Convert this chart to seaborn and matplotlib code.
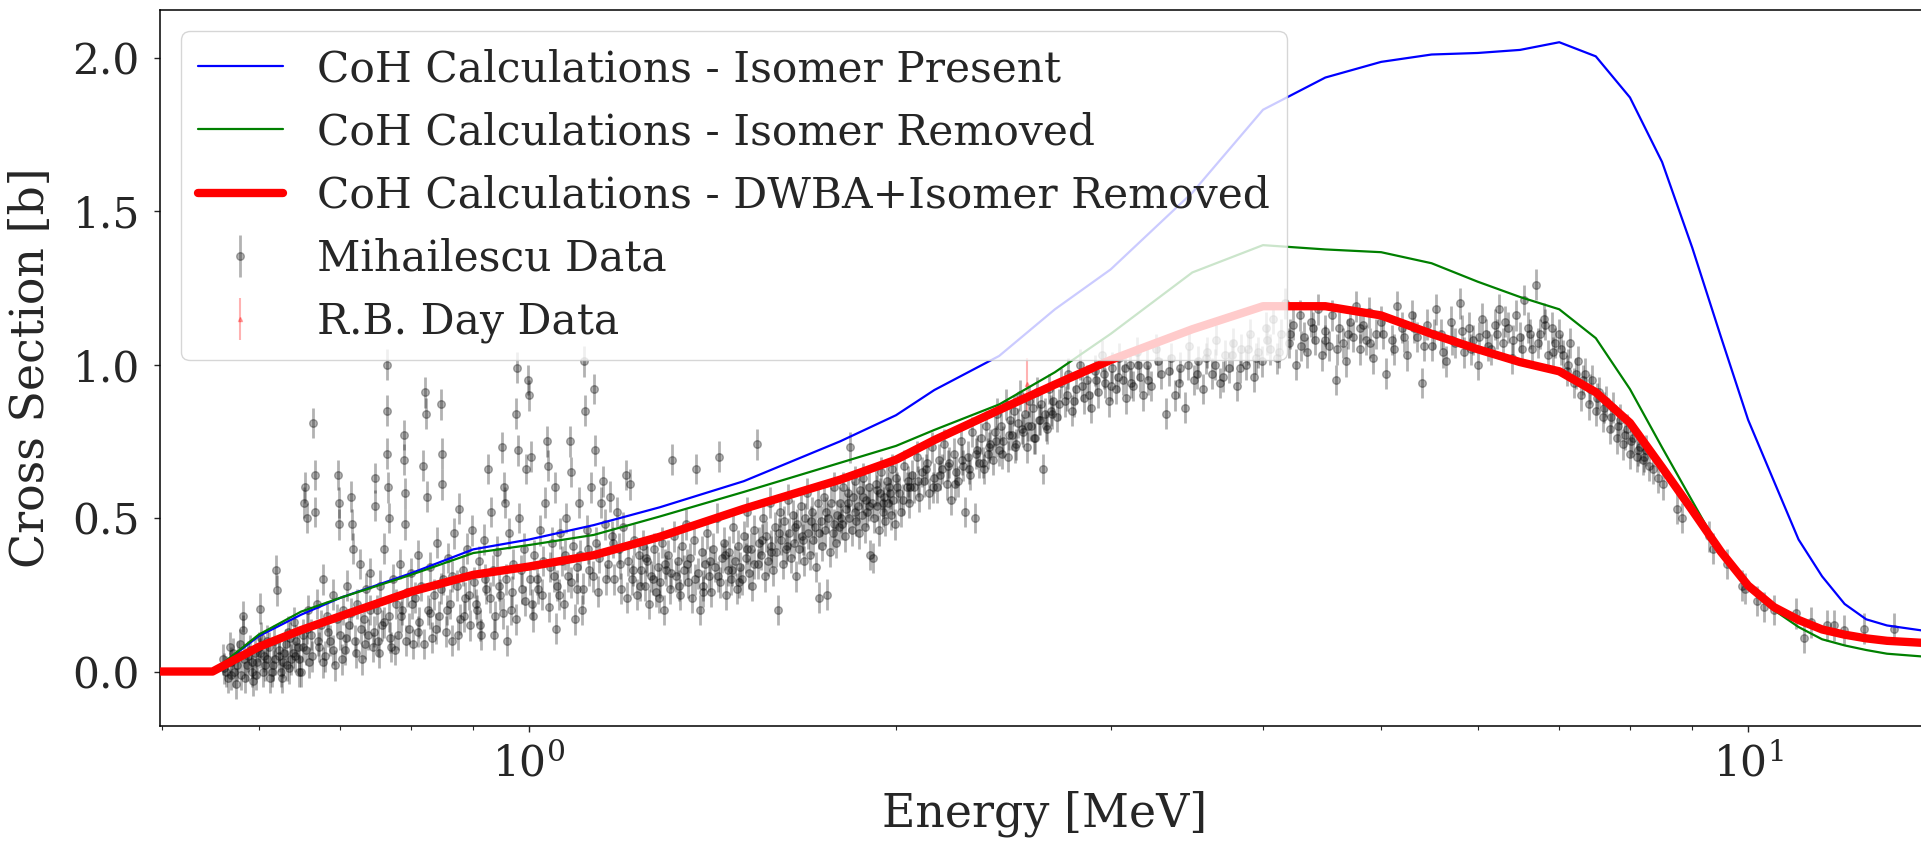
import numpy as np
import pandas as pd
import matplotlib
matplotlib.use("Agg")
import matplotlib.pyplot as plt
import seaborn as sns

# ---------------- data ----------------
energy_grid = [0.498, 0.55, 0.6, 0.65, 0.7, 0.8, 0.9, 1.0, 1.13, 1.28, 1.5, 1.8, 2.0, 2.15,
               2.43, 2.7, 3.0, 3.5, 4.0, 4.5, 5.0, 5.5, 6.0, 6.5, 7.0, 7.5, 8.0, 8.5, 9.0,
               9.5, 10.0, 10.5, 11.0, 11.5, 12.0, 12.5, 13.0, 14.1]

xs_isomer_present = [0, 0, 0.115, 0.185, 0.24, 0.32, 0.398, 0.43, 0.477, 0.535, 0.62, 0.75,
                     0.835, 0.917, 1.028, 1.18, 1.31, 1.56, 1.83, 1.935, 1.986, 2.01, 2.015,
                     2.025, 2.05, 2.004, 1.87, 1.66, 1.38, 1.09, 0.82, 0.62, 0.43, 0.31, 0.22,
                     0.17, 0.15, 0.13]

xs_isomer_removed = [0, 0, 0.12, 0.195, 0.24, 0.315, 0.386, 0.412, 0.445, 0.505, 0.585, 0.68,
                     0.735, 0.787, 0.87, 0.975, 1.1, 1.30, 1.389, 1.375, 1.366, 1.33, 1.27,
                     1.22, 1.18, 1.086, 0.92, 0.73, 0.555, 0.39, 0.27, 0.2, 0.145, 0.105,
                     0.085, 0.07, 0.058, 0.047]

xs_dwba_removed = [0, 0, 0.08, 0.135, 0.18, 0.26, 0.315, 0.342, 0.379, 0.439, 0.53, 0.625,
                   0.69, 0.754, 0.852, 0.935, 1.015, 1.115, 1.19, 1.19, 1.16, 1.10, 1.05,
                   1.008, 0.978, 0.91, 0.81, 0.665, 0.525, 0.39, 0.28, 0.21, 0.168, 0.137,
                   0.12, 0.108, 0.1, 0.092]

# Mihailescu data (segment by segment)
mih_e_a = [0.562, 0.566, 0.568, 0.57, 0.573, 0.575, 0.577, 0.58, 0.582, 0.583, 0.584, 0.587,
           0.59, 0.592, 0.594, 0.596, 0.598, 0.601, 0.602, 0.603, 0.605, 0.607, 0.609, 0.612,
           0.613, 0.616, 0.618, 0.62, 0.621, 0.624, 0.626, 0.628, 0.63, 0.632, 0.634, 0.636,
           0.638, 0.64, 0.642, 0.644, 0.646, 0.648, 0.65, 0.652, 0.654, 0.655, 0.656, 0.657,
           0.659, 0.66]
mih_v_a = [0.01, -0.02, 0.08, 0.03, 0.0, -0.04, 0.05, -0.01, 0.18, 0.135, 0.04, 0.02,
           0.07, 0.0, -0.03, 0.06, 0.03, 0.06, 0.205, 0.11, 0.0, 0.02, 0.04, 0.08,
           -0.02, 0.02, 0.1, 0.33, 0.265, 0.05, 0.0, 0.03, 0.06, 0.09, 0.13, 0.01,
           0.04, 0.06, 0.16, 0.1, 0.08, 0.04, 0.0, 0.12, 0.55, 0.6, 0.07, 0.5,
           0.2, 0.03]

mih_e_b = [0.662, 0.665, 0.667, 0.668, 0.67, 0.672, 0.675, 0.678, 0.68, 0.683, 0.686, 0.69,
           0.693, 0.697, 0.698, 0.699, 0.7, 0.703, 0.706, 0.709, 0.712, 0.715, 0.716, 0.717,
           0.72, 0.723, 0.726, 0.729, 0.732, 0.735, 0.738, 0.741, 0.744, 0.747, 0.748, 0.75]
mih_v_b = [0.12, 0.81, 0.64, 0.52, 0.22, 0.08, 0.15, 0.3, 0.05, 0.18, 0.1, 0.25,
           0.02, 0.64, 0.55, 0.48, 0.12, 0.2, 0.07, 0.28, 0.15, 0.57, 0.48, 0.4,
           0.1, 0.22, 0.35, 0.04, 0.17, 0.27, 0.12, 0.32, 0.08, 0.63, 0.54, 0.2]

mih_e_c = [0.752, 0.755, 0.758, 0.761, 0.764, 0.7645, 0.765, 0.766, 0.767, 0.768, 0.771,
           0.774, 0.777, 0.78, 0.783, 0.786, 0.789, 0.79, 0.7905, 0.791, 0.794, 0.797, 0.8,
           0.803, 0.806, 0.81, 0.813, 0.816, 0.819, 0.822, 0.8225, 0.824, 0.826, 0.83, 0.833,
           0.836, 0.84, 0.843, 0.847, 0.848, 0.849, 0.85, 0.854, 0.858, 0.861, 0.865, 0.868,
           0.872, 0.876, 0.878, 0.882, 0.886, 0.89, 0.894, 0.898]
mih_v_c = [0.1, 0.28, 0.15, 0.4, 1.0, 0.85, 0.71, 0.6, 0.5, 0.18, 0.08,
           0.3, 0.22, 0.12, 0.35, 0.2, 0.77, 0.69, 0.58, 0.48, 0.26, 0.14, 0.32,
           0.09, 0.24, 0.38, 0.16, 0.28, 0.67, 0.91, 0.84, 0.57, 0.2, 0.34, 0.11,
           0.25, 0.42, 0.18, 0.87, 0.71, 0.61, 0.3, 0.13, 0.37, 0.22, 0.1, 0.45,
           0.28, 0.53, 0.17, 0.33, 0.24, 0.4, 0.15, 0.46]

mih_e_d = [0.902, 0.906, 0.91, 0.914, 0.918, 0.922, 0.926, 0.93, 0.934, 0.938, 0.942, 0.946,
           0.95, 0.953, 0.955, 0.958, 0.962, 0.966, 0.97, 0.975, 0.978, 0.98, 0.982, 0.986,
           0.99, 0.995, 0.998, 1.0, 1.003, 1.006, 1.01, 1.015, 1.02, 1.025, 1.03, 1.034,
           1.036, 1.04, 1.045, 1.05]
mih_v_d = [0.29, 0.2, 0.36, 0.12, 0.43, 0.27, 0.66, 0.52, 0.33, 0.18, 0.39, 0.25,
           0.73, 0.6, 0.55, 0.3, 0.45, 0.2, 0.35, 0.84, 0.99, 0.72, 0.5, 0.27,
           0.4, 0.66, 0.95, 0.9, 0.7, 0.22, 0.38, 0.3, 0.46, 0.25, 0.55, 0.75,
           0.67, 0.34, 0.42, 0.6]

mih_e_e = [1.052, 1.055, 1.06, 1.064, 1.068, 1.072, 1.076, 1.08, 1.083, 1.086, 1.09, 1.094,
           1.098, 1.1, 1.105, 1.11, 1.112, 1.115, 1.12, 1.125, 1.13, 1.132, 1.135, 1.14,
           1.145, 1.15, 1.155, 1.16, 1.165, 1.17, 1.175, 1.18, 1.185, 1.19, 1.195, 1.2,
           1.205, 1.21, 1.215, 1.22, 1.225, 1.23, 1.235, 1.24, 1.245, 1.25, 1.255, 1.26,
           1.265, 1.27, 1.275, 1.28, 1.285, 1.29, 1.295]
mih_v_e = [0.14, 0.28, 0.45, 0.36, 0.22, 0.5, 0.31, 0.75, 0.65, 0.41, 0.17, 0.27,
           0.55, 0.38, 0.2, 1.01, 0.85, 0.46, 0.33, 0.6, 0.92, 0.72, 0.42, 0.26,
           0.55, 0.62, 0.48, 0.35, 0.57, 0.44, 0.3, 0.52, 0.4, 0.27, 0.47, 0.64,
           0.36, 0.61, 0.3, 0.43, 0.25, 0.38, 0.33, 0.41, 0.28, 0.36, 0.22, 0.31,
           0.4, 0.26, 0.34, 0.29, 0.42, 0.2, 0.33]

mih_e_f = [1.30, 1.305, 1.31, 1.315, 1.32, 1.325, 1.33, 1.335, 1.34, 1.345, 1.35, 1.355,
           1.36, 1.365, 1.37, 1.375, 1.38, 1.385, 1.39, 1.395, 1.40, 1.405, 1.41, 1.415,
           1.42, 1.425, 1.432, 1.435, 1.44, 1.445, 1.45, 1.455, 1.46, 1.465, 1.47, 1.475,
           1.48, 1.485, 1.49, 1.495, 1.50, 1.505, 1.51, 1.515, 1.52, 1.525, 1.53, 1.537,
           1.54, 1.545]
mih_v_f = [0.38, 0.27, 0.69, 0.44, 0.31, 0.36, 0.25, 0.41, 0.33, 0.48, 0.29, 0.37,
           0.24, 0.43, 0.66, 0.32, 0.2, 0.39, 0.28, 0.35, 0.45, 0.31, 0.26, 0.4,
           0.34, 0.5, 0.7, 0.29, 0.37, 0.42, 0.25, 0.33, 0.39, 0.3, 0.47, 0.36,
           0.27, 0.41, 0.34, 0.3, 0.44, 0.37, 0.52, 0.32, 0.4, 0.28, 0.46, 0.74,
           0.35, 0.42]

mih_e_g = [1.55, 1.555, 1.56, 1.565, 1.57, 1.575, 1.58, 1.585, 1.59, 1.595, 1.60, 1.605,
           1.61, 1.615, 1.62, 1.625, 1.63, 1.635, 1.64, 1.645, 1.65, 1.655, 1.66, 1.665,
           1.67, 1.675, 1.68, 1.685, 1.69, 1.695, 1.70, 1.705, 1.71, 1.715, 1.72, 1.725,
           1.73, 1.735, 1.74, 1.745, 1.75, 1.755, 1.76, 1.765, 1.77, 1.775, 1.78, 1.785,
           1.79, 1.795]
mih_v_g = [0.38, 0.5, 0.31, 0.44, 0.36, 0.55, 0.41, 0.33, 0.47, 0.39, 0.2, 0.52,
           0.43, 0.35, 0.49, 0.4, 0.56, 0.45, 0.37, 0.51, 0.42, 0.31, 0.48, 0.4,
           0.54, 0.44, 0.36, 0.5, 0.58, 0.45, 0.38, 0.52, 0.43, 0.47, 0.34, 0.55,
           0.24, 0.49, 0.41, 0.57, 0.46, 0.25, 0.5, 0.39, 0.55, 0.45, 0.6, 0.42,
           0.51, 0.47]

mih_e_h = [1.80, 1.805, 1.81, 1.815, 1.82, 1.825, 1.83, 1.835, 1.84, 1.845, 1.85, 1.855,
           1.86, 1.865, 1.87, 1.875, 1.88, 1.885, 1.89, 1.895, 1.90, 1.905, 1.91, 1.915,
           1.92, 1.925, 1.93, 1.935, 1.94, 1.945, 1.95, 1.955, 1.96, 1.965, 1.97, 1.975,
           1.98, 1.985, 1.99, 1.995, 2.00, 2.01, 2.02, 2.03, 2.04]
mih_v_h = [0.55, 0.48, 0.6, 0.44, 0.53, 0.58, 0.5, 0.73, 0.46, 0.57, 0.62, 0.49,
           0.54, 0.45, 0.59, 0.51, 0.63, 0.47, 0.56, 0.52, 0.6, 0.38, 0.55, 0.37,
           0.5, 0.61, 0.54, 0.46, 0.58, 0.65, 0.52, 0.57, 0.49, 0.62, 0.55, 0.6,
           0.51, 0.66, 0.56, 0.48, 0.63, 0.58, 0.52, 0.67, 0.6]

mih_e_i = [2.05, 2.06, 2.07, 2.08, 2.09, 2.10, 2.11, 2.12, 2.13, 2.14, 2.15, 2.16,
           2.17, 2.18, 2.19, 2.20, 2.21, 2.22, 2.23, 2.24, 2.25, 2.26, 2.27, 2.28,
           2.29, 2.30, 2.31, 2.32, 2.33, 2.34, 2.35, 2.36, 2.37, 2.38, 2.39]
mih_v_i = [0.55, 0.64, 0.6, 0.7, 0.57, 0.65, 0.62, 0.68, 0.58, 0.73, 0.63, 0.6,
           0.69, 0.66, 0.74, 0.61, 0.68, 0.56, 0.71, 0.65, 0.62, 0.75, 0.67, 0.52,
           0.7, 0.64, 0.78, 0.5, 0.72, 0.68, 0.76, 0.66, 0.8, 0.71, 0.74]

mih_e_j = [2.40, 2.41, 2.42, 2.43, 2.44, 2.45, 2.46, 2.47, 2.48, 2.49, 2.50, 2.51,
           2.52, 2.53, 2.54, 2.55, 2.56, 2.57, 2.58, 2.59, 2.60, 2.61, 2.62, 2.63,
           2.64, 2.65, 2.66, 2.67, 2.68, 2.69]
mih_v_j = [0.69, 0.78, 0.84, 0.72, 0.8, 0.75, 0.87, 0.7, 0.82, 0.77, 0.85, 0.74,
           0.81, 0.9, 0.78, 0.84, 0.73, 0.88, 0.8, 0.86, 0.76, 0.91, 0.82, 0.87,
           0.66, 0.84, 0.79, 0.92, 0.85, 0.88]

mih_e_k = [2.71, 2.73, 2.75, 2.77, 2.79, 2.81, 2.83, 2.85, 2.87, 2.89, 2.91, 2.93,
           2.95, 2.97, 2.99, 3.01, 3.03, 3.05, 3.07, 3.09, 3.11, 3.13, 3.15, 3.17, 3.19]
mih_v_k = [0.83, 0.94, 0.88, 0.97, 0.85, 0.92, 1.0, 0.89, 0.95, 0.86, 0.98, 0.91,
           1.03, 0.94, 0.88, 0.99, 0.92, 1.02, 0.95, 0.89, 1.0, 0.93, 1.04, 0.96, 0.9]

mih_e_l = [3.21, 3.24, 3.27, 3.30, 3.33, 3.36, 3.39, 3.42, 3.45, 3.48, 3.51, 3.54,
           3.57, 3.60, 3.63, 3.66, 3.69, 3.72, 3.75, 3.78, 3.81, 3.84, 3.87, 3.90,
           3.93, 3.96, 3.99, 4.02]
mih_v_l = [1.0, 0.93, 1.05, 0.97, 0.84, 1.02, 0.9, 0.99, 0.86, 1.06, 0.95, 1.01,
           0.92, 1.04, 0.97, 1.08, 0.94, 1.03, 0.99, 1.07, 0.93, 1.05, 1.0, 1.1,
           0.96, 1.04, 1.01, 1.12]

mih_e_m = [4.05, 4.08, 4.11, 4.14, 4.17, 4.20, 4.23, 4.26, 4.29, 4.32, 4.35, 4.38,
           4.41, 4.44, 4.47, 4.50, 4.53, 4.56, 4.59, 4.62, 4.65, 4.68, 4.71, 4.74,
           4.77, 4.80, 4.83, 4.86, 4.89, 4.92, 4.95]
mih_v_m = [1.05, 1.15, 1.02, 1.1, 1.2, 1.07, 1.13, 1.0, 1.16, 1.09, 1.04, 1.14,
           1.08, 1.18, 1.03, 1.11, 1.06, 1.16, 0.95, 1.12, 1.07, 1.01, 1.14, 1.09,
           1.19, 1.05, 1.13, 1.08, 1.17, 1.02, 1.1]

mih_e_n = [5.0, 5.05, 5.1, 5.15, 5.2, 5.25, 5.3, 5.35, 5.4, 5.45, 5.5, 5.55, 5.6, 5.65,
           5.7, 5.75, 5.8, 5.85, 5.9, 5.95, 6.0, 6.05, 6.1, 6.15, 6.2, 6.25, 6.3, 6.35,
           6.4, 6.45, 6.5, 6.55, 6.6, 6.65, 6.7, 6.75, 6.8, 6.85, 6.9, 6.95]
mih_v_n = [1.14, 0.97, 1.08, 1.19, 1.12, 1.03, 1.16, 1.09, 0.94, 1.13, 1.06, 1.18, 1.1, 1.01,
           1.14, 1.07, 1.2, 1.04, 1.12, 1.08, 1.0, 1.15, 1.1, 1.05, 1.13, 1.18, 1.07, 1.12,
           1.02, 1.16, 1.09, 1.21, 1.12, 1.05, 1.26, 1.1, 1.15, 1.03, 1.12, 1.07]

mih_e_o = [7.0, 7.05, 7.1, 7.15, 7.2, 7.25, 7.3, 7.35, 7.4, 7.45, 7.5, 7.55, 7.6, 7.65,
           7.7, 7.75, 7.8, 7.85, 7.9, 7.95, 8.0, 8.05, 8.1, 8.15, 8.2, 8.25, 8.3]
mih_v_o = [1.1, 1.03, 0.98, 1.07, 0.94, 1.01, 0.9, 0.97, 0.87, 0.95, 0.85, 0.91, 0.83, 0.88,
           0.79, 0.86, 0.76, 0.82, 0.74, 0.79, 0.71, 0.76, 0.7, 0.73, 0.69, 0.72, 0.67]

mih_e_p = [8.52, 8.75, 8.82, 9.28, 9.35, 9.61, 9.88, 9.95, 10.17, 10.3, 10.5, 10.94,
           11.12, 11.26, 11.61, 11.76, 11.98, 12.44, 13.17]
mih_v_p = [0.61, 0.53, 0.5, 0.44, 0.4, 0.35, 0.28, 0.27, 0.23, 0.21, 0.2, 0.19,
           0.11, 0.16, 0.15, 0.15, 0.135, 0.14, 0.14]

# second pass over the densest parts of the cloud
mih_e_x1 = [0.561, 0.564, 0.569, 0.572, 0.576, 0.579, 0.585, 0.588, 0.593, 0.597, 0.6, 0.606,
            0.61, 0.615, 0.619, 0.623, 0.627, 0.633, 0.637, 0.643, 0.647, 0.653, 0.658]
mih_v_x1 = [0.04, 0.0, -0.01, 0.06, 0.02, 0.09, -0.02, 0.05, 0.03, -0.01, 0.08, 0.05,
            0.1, 0.0, 0.04, 0.07, -0.02, 0.02, 0.11, 0.05, 0.0, 0.08, 0.14]

mih_e_x2 = [0.664, 0.671, 0.677, 0.684, 0.691, 0.696, 0.702, 0.708, 0.714, 0.721, 0.728,
            0.734, 0.74, 0.746, 0.753, 0.76, 0.769, 0.776, 0.785, 0.793, 0.802, 0.811,
            0.82, 0.829, 0.838, 0.846, 0.856, 0.864, 0.874, 0.884, 0.893]
mih_v_x2 = [0.05, 0.1, 0.03, 0.13, 0.07, 0.17, 0.04, 0.11, 0.19, 0.06, 0.14,
            0.09, 0.2, 0.13, 0.06, 0.16, 0.11, 0.07, 0.18, 0.1, 0.22, 0.13,
            0.09, 0.19, 0.14, 0.27, 0.2, 0.31, 0.12, 0.18, 0.25]

mih_e_x3 = [0.904, 0.912, 0.92, 0.928, 0.936, 0.944, 0.952, 0.96, 0.968, 0.976, 0.984, 0.993,
            1.001, 1.008, 1.017, 1.027, 1.038, 1.048, 1.058, 1.07, 1.082, 1.095, 1.107,
            1.118, 1.128, 1.142, 1.157, 1.172, 1.188, 1.203, 1.218, 1.233, 1.248, 1.263,
            1.278, 1.293]
mih_v_x3 = [0.22, 0.15, 0.3, 0.24, 0.12, 0.28, 0.19, 0.1, 0.26, 0.17, 0.33, 0.23,
            0.3, 0.18, 0.27, 0.36, 0.21, 0.31, 0.25, 0.38, 0.29, 0.34, 0.27,
            0.4, 0.31, 0.37, 0.3, 0.42, 0.35, 0.24, 0.33, 0.28, 0.37, 0.3,
            0.24, 0.35]

mih_e_x4 = [1.308, 1.328, 1.348, 1.368, 1.388, 1.408, 1.428, 1.448, 1.468, 1.488, 1.508,
            1.528, 1.552, 1.578, 1.602, 1.628, 1.652, 1.678, 1.702, 1.728, 1.752, 1.778,
            1.802, 1.828, 1.852, 1.878, 1.902, 1.928, 1.952, 1.978, 2.005, 2.025, 2.045]
mih_v_x4 = [0.32, 0.28, 0.35, 0.3, 0.26, 0.36, 0.31, 0.38, 0.33, 0.29, 0.4,
            0.35, 0.43, 0.39, 0.45, 0.41, 0.47, 0.43, 0.49, 0.45, 0.52, 0.48,
            0.5, 0.55, 0.52, 0.57, 0.54, 0.59, 0.55, 0.58, 0.6, 0.56, 0.62]

mih_e_x5 = [2.055, 2.085, 2.115, 2.145, 2.175, 2.205, 2.235, 2.265, 2.295, 2.325, 2.355,
            2.385, 2.415, 2.445, 2.475, 2.505, 2.535, 2.565, 2.595, 2.625, 2.655, 2.685,
            2.72, 2.76, 2.8, 2.84, 2.88, 2.92, 2.96, 3.0, 3.04, 3.08, 3.12, 3.16]
mih_v_x5 = [0.6, 0.62, 0.66, 0.6, 0.64, 0.67, 0.61, 0.69, 0.66, 0.71, 0.68,
            0.73, 0.75, 0.71, 0.77, 0.73, 0.79, 0.8, 0.76, 0.82, 0.8, 0.84,
            0.87, 0.9, 0.88, 0.93, 0.9, 0.95, 0.97, 0.93, 0.96, 0.99, 0.94, 1.0]

mih_e_x6 = [3.22, 3.28, 3.35, 3.41, 3.47, 3.53, 3.59, 3.65, 3.71, 3.77, 3.83, 3.89, 3.95,
            4.03, 4.12, 4.21, 4.3, 4.4, 4.5, 4.6, 4.7, 4.8, 4.9, 5.02, 5.12, 5.22, 5.32,
            5.42, 5.52, 5.62, 5.72, 5.82, 5.92, 6.02, 6.12, 6.22, 6.32, 6.42, 6.52, 6.62,
            6.72, 6.82, 6.92]
mih_v_x6 = [0.95, 1.01, 0.98, 0.94, 1.0, 0.97, 1.02, 1.0, 0.96, 1.03, 0.99, 1.05, 1.02,
            1.08, 1.04, 1.1, 1.06, 1.12, 1.08, 1.05, 1.1, 1.12, 1.07, 1.1, 1.05, 1.09, 1.12,
            1.06, 1.1, 1.04, 1.08, 1.11, 1.05, 1.09, 1.06, 1.1, 1.14, 1.08, 1.05, 1.1,
            1.07, 1.13, 1.04]

mih_e_x7 = [7.02, 7.12, 7.22, 7.32, 7.42, 7.52, 7.62, 7.72, 7.82, 7.92, 8.02, 8.12, 8.22,
            8.35, 8.44]
mih_v_x7 = [1.05, 1.0, 0.97, 0.95, 0.92, 0.89, 0.86, 0.83, 0.8, 0.77, 0.75, 0.72, 0.7,
            0.66, 0.63]

mih_err = 0.05

day_e = [2.56]
day_v = [0.935]
day_err = [0.085]

labels = ["CoH Calculations - Isomer Present",
          "CoH Calculations - Isomer Removed",
          "CoH Calculations - DWBA+Isomer Removed",
          "Mihailescu Data",
          "R.B. Day Data"]

# ---------------- plot ----------------
sns.set_style("ticks")
plt.rcParams["font.family"] = ["DejaVu Serif"]
plt.rcParams["mathtext.fontset"] = "dejavuserif"
plt.rcParams["xtick.direction"] = "out"
plt.rcParams["ytick.direction"] = "out"

W, H = 1921, 841
fig = plt.figure(figsize=(W / 100, H / 100), dpi=100)
ax = fig.add_axes([160 / W, 1 - 726 / H, (1930 - 160) / W, (726 - 10) / H])

mih_e = (mih_e_a + mih_e_b + mih_e_c + mih_e_d + mih_e_e + mih_e_f + mih_e_g + mih_e_h +
         mih_e_i + mih_e_j + mih_e_k + mih_e_l + mih_e_m + mih_e_n + mih_e_o + mih_e_p +
         mih_e_x1 + mih_e_x2 + mih_e_x3 + mih_e_x4 + mih_e_x5 + mih_e_x6 + mih_e_x7)
mih_v = (mih_v_a + mih_v_b + mih_v_c + mih_v_d + mih_v_e + mih_v_f + mih_v_g + mih_v_h +
         mih_v_i + mih_v_j + mih_v_k + mih_v_l + mih_v_m + mih_v_n + mih_v_o + mih_v_p +
         mih_v_x1 + mih_v_x2 + mih_v_x3 + mih_v_x4 + mih_v_x5 + mih_v_x6 + mih_v_x7)

df = pd.DataFrame({"E": energy_grid, "p": xs_isomer_present,
                   "r": xs_isomer_removed, "d": xs_dwba_removed})

sns.lineplot(data=df, x="E", y="p", ax=ax, color="blue", lw=1.6, label=labels[0],
             estimator=None, sort=False, zorder=3)
sns.lineplot(data=df, x="E", y="r", ax=ax, color="green", lw=1.6, label=labels[1],
             estimator=None, sort=False, zorder=3)
sns.lineplot(data=df, x="E", y="d", ax=ax, color="red", lw=6, label=labels[2],
             estimator=None, sort=False, zorder=3)

ax.errorbar(mih_e, mih_v, yerr=mih_err, fmt="o", color="k", alpha=0.3, ms=5.5,
            elinewidth=2, capsize=0, label=labels[3], zorder=2)
ax.errorbar(day_e, day_v, yerr=day_err, fmt="^", color="red", alpha=0.3, ms=3,
            elinewidth=1.5, capsize=0, label=labels[4], zorder=2)

ax.set_xscale("log")
ax.set_xlim(0.498, 14.1)
ax.set_ylim(-0.1775, 2.155)
ax.set_yticks([0.0, 0.5, 1.0, 1.5, 2.0])
ax.yaxis.set_major_formatter(matplotlib.ticker.FormatStrFormatter("%.1f"))
ax.tick_params(axis="both", which="major", labelsize=30.5, length=4.5, width=1.0)
ax.tick_params(axis="y", which="major", pad=10)
ax.tick_params(axis="x", which="major", pad=8)
ax.tick_params(axis="x", which="minor", length=3.2, width=0.8)
ax.set_xlabel("Energy [MeV]", fontsize=33, labelpad=4)
ax.set_ylabel("Cross Section [b]", fontsize=33, labelpad=13)
for s in ax.spines.values():
    s.set_color("black")
    s.set_linewidth(1.1)

leg = ax.legend(loc="upper left", fontsize=30.5, frameon=True, framealpha=0.8)

fig.savefig("out.png", dpi=100)
